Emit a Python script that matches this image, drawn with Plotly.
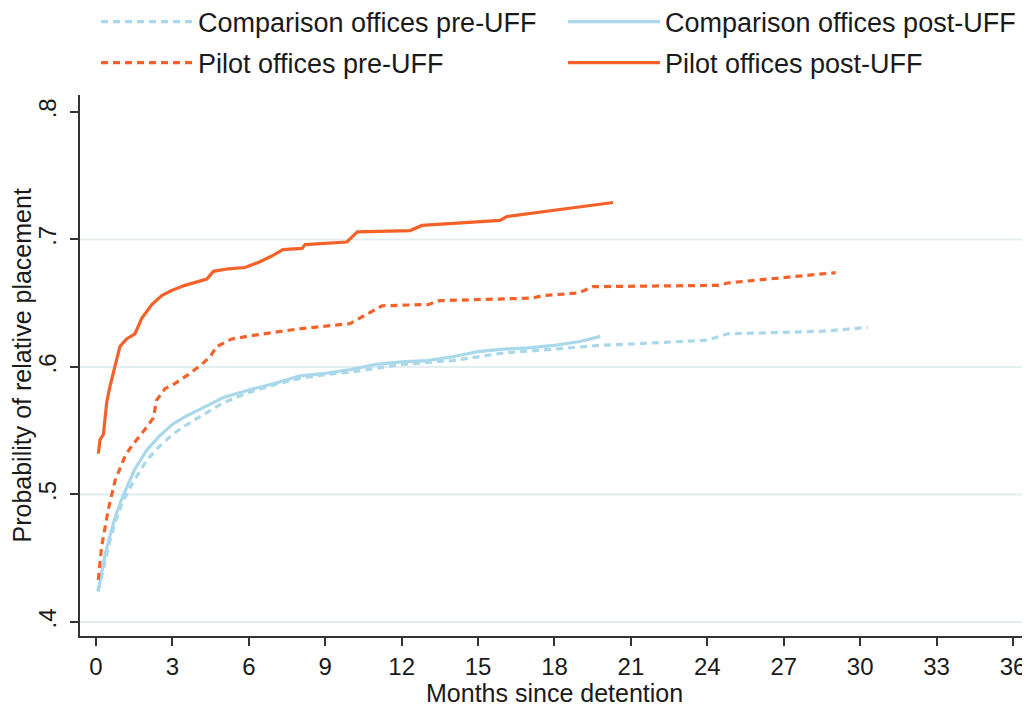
import plotly.graph_objects as go

# ---------------- data ----------------
comp_pre_x = [0.08, 0.2, 0.35, 0.5, 0.75, 1, 1.25, 1.5, 2, 2.5, 3, 3.5, 4, 4.5, 5, 6, 7, 8, 9, 10,
              12, 14, 16, 18, 19.8, 21, 24, 24.8, 27, 28.5, 30.3]
comp_pre_y = [0.424, 0.435, 0.448, 0.460, 0.478, 0.492, 0.502, 0.511, 0.527, 0.538, 0.547, 0.554,
              0.560, 0.566, 0.572, 0.580, 0.586, 0.591, 0.594, 0.596, 0.602, 0.605, 0.611, 0.614,
              0.617, 0.618, 0.621, 0.626, 0.627, 0.628, 0.631]

comp_post_x = [0.08, 0.2, 0.35, 0.5, 0.75, 1, 1.25, 1.5, 2, 2.5, 3, 3.5, 4, 4.5, 5, 6, 7, 8, 9, 10,
               11, 12, 13, 14, 15, 16, 17, 18, 19, 19.8]
comp_post_y = [0.424, 0.437, 0.452, 0.464, 0.482, 0.496, 0.508, 0.519, 0.535, 0.546, 0.555, 0.561,
               0.566, 0.571, 0.576, 0.582, 0.587, 0.593, 0.595, 0.598, 0.602, 0.604, 0.605, 0.608,
               0.612, 0.614, 0.615, 0.617, 0.620, 0.624]

pilot_pre_x = [0.09, 0.22, 0.48, 0.75, 1.14, 1.4, 1.92, 2.25, 2.38, 2.71, 3.1, 3.62, 4.15, 4.48, 4.74,
               5.33, 6.24, 7.42, 8.01, 9.97, 10.25, 11.23, 13.06, 13.48, 17.12, 17.55, 18.95, 19.51,
               24.42, 24.84, 29.04]
pilot_pre_y = [0.433, 0.459, 0.488, 0.511, 0.530, 0.538, 0.551, 0.560, 0.574, 0.583, 0.587, 0.594,
               0.602, 0.608, 0.616, 0.622, 0.625, 0.628, 0.630, 0.634, 0.637, 0.648, 0.649, 0.652,
               0.654, 0.656, 0.658, 0.663, 0.664, 0.666, 0.674]

pilot_post_x = [0.09, 0.16, 0.29, 0.42, 0.55, 0.75, 0.94, 1.2, 1.53, 1.79, 1.99, 2.19, 2.58, 2.97,
                3.49, 4.02, 4.35, 4.61, 5.2, 5.85, 6.37, 6.9, 7.34, 8.09, 8.21, 9.85, 10.26, 12.33,
                12.8, 15.86, 16.13, 20.3]
pilot_post_y = [0.532, 0.543, 0.547, 0.572, 0.585, 0.600, 0.616, 0.622, 0.626, 0.638, 0.643, 0.649,
                0.656, 0.660, 0.664, 0.667, 0.669, 0.675, 0.677, 0.678, 0.682, 0.687, 0.692, 0.693,
                0.696, 0.698, 0.706, 0.707, 0.711, 0.715, 0.718, 0.729]

x_ticks = list(range(0, 37, 3))
y_ticks = [0.4, 0.5, 0.6, 0.7, 0.8]
y_tick_text = [".4", ".5", ".6", ".7", ".8"]
grid_vals = [0.4, 0.5, 0.6, 0.7]

names = ["Comparison offices pre-UFF", "Comparison offices post-UFF",
         "Pilot offices pre-UFF", "Pilot offices post-UFF"]
x_title = "Months since detention"
y_title = "Probability of relative placement"

# ---------------- style ----------------
BLUE = "#A8D8EA"
ORANGE = "#F4622A"
FONT = "Liberation Sans, Arial, sans-serif"
TXT = "#1a1a1a"
DOTS = "7px,5px"
# the page body has an 8px margin, so the figure is drawn 8px smaller
W, H = 1022, 699
ML, MR, MT, MB = 72, 2, 87, 71
PLOT_H = H - MT - MB
PLOT_W = W - ML - MR

fig = go.Figure()
series = [
    (comp_pre_x, comp_pre_y, names[0], BLUE, DOTS, "legend"),
    (comp_post_x, comp_post_y, names[1], BLUE, "solid", "legend"),
    (pilot_pre_x, pilot_pre_y, names[2], ORANGE, DOTS, "legend2"),
    (pilot_post_x, pilot_post_y, names[3], ORANGE, "solid", "legend2"),
]
for xs, ys, nm, col, dash, lg in series:
    fig.add_trace(go.Scatter(x=xs, y=ys, name=nm, mode="lines", legend=lg,
                             line=dict(color=col, width=3.2, dash=dash)))

for g in grid_vals:
    fig.add_shape(type="line", xref="paper", yref="y", x0=0, x1=1, y0=g, y1=g,
                  line=dict(color="#E3EEF1", width=2), layer="below")

leg_common = dict(orientation="h", xref="container", yref="container",
                  xanchor="left", yanchor="middle",
                  entrywidth=360, entrywidthmode="pixels",
                  itemwidth=92,
                  font=dict(family=FONT, size=27, color=TXT),
                  bgcolor="rgba(0,0,0,0)", borderwidth=0)

fig.add_annotation(text=x_title, xref="paper", yref="paper", x=0.5,
                   y=-(685 - (H - MB)) / PLOT_H, xanchor="center", yanchor="middle",
                   showarrow=False, font=dict(family=FONT, size=25, color=TXT))
fig.add_annotation(text=y_title, xref="paper", yref="paper", x=(13 - ML) / PLOT_W,
                   y=0.5, xanchor="center", yanchor="middle", textangle=-90,
                   showarrow=False, font=dict(family=FONT, size=25, color=TXT))

fig.update_layout(
    width=W, height=H,
    margin=dict(l=ML, r=MR, t=MT, b=MB, autoexpand=False),
    paper_bgcolor="white", plot_bgcolor="white",
    font=dict(family=FONT, size=25, color=TXT),
    showlegend=True,
    legend=dict(x=88 / W, y=1 - 14 / H, **leg_common),
    legend2=dict(x=88 / W, y=1 - 55 / H, **leg_common),
    xaxis=dict(range=[-0.628, 36.59], tickmode="array", tickvals=x_ticks,
               ticks="outside", ticklen=8, tickwidth=1.5, tickcolor="#333333",
               showline=True, linecolor="#333333", linewidth=1.5,
               showgrid=False, zeroline=False, ticklabeloverflow="allow",
               tickfont=dict(family=FONT, size=24)),
    yaxis=dict(range=[0.389, 0.8133], tickmode="array", tickvals=y_ticks, ticktext=y_tick_text,
               tickangle=-90, ticklabelstandoff=5,
               ticks="outside", ticklen=8, tickwidth=1.5, tickcolor="#333333",
               showline=True, linecolor="#333333", linewidth=1.5,
               showgrid=False, zeroline=False,
               tickfont=dict(family=FONT, size=24)),
)

fig.write_html("out.html")
